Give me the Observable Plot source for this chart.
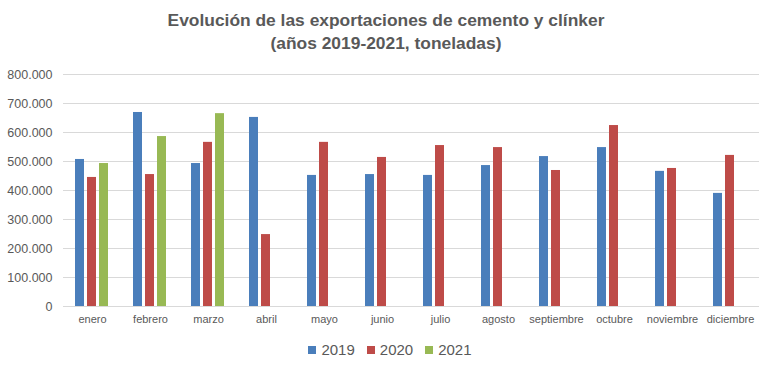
<!DOCTYPE html>
<html>
<head>
<meta charset="utf-8">
<script src="https://cdn.jsdelivr.net/npm/d3@7"></script>
<script src="https://cdn.jsdelivr.net/npm/@observablehq/plot@0.6"></script>
<style>
  body { margin: 0; background: #fff; width: 772px; height: 368px; overflow: hidden; font-family: "Liberation Sans", Arial, sans-serif; }
  #title { text-align: center; font-weight: bold; font-size: 17.4px; line-height: 23px; color: #595959; padding-top: 9px; height: 53px; }
  #chart svg { display: block; }
  #chart [aria-label^="fx-axis"] text { font-size: 11px; }
  #legend { display: flex; justify-content: center; align-items: center; gap: 12px; color: #595959; font-size: 15px; margin-top: 9px; padding-left: 8px; }
  #legend span.sw { display: inline-block; width: 8px; height: 8px; margin-right: 5px; }
  #legend div { display: flex; align-items: center; }
</style>
</head>
<body>
<div id="title">Evolución de las exportaciones de cemento y clínker<br>(años 2019-2021, toneladas)</div>
<div id="chart"></div>
<div id="legend"></div>
<script>
const months = ["enero","febrero","marzo","abril","mayo","junio","julio","agosto","septiembre","octubre","noviembre","diciembre"];
const years = ["2019","2020","2021"];
const v2019 = [507000, 669000, 493000, 652000, 452000, 455000, 452000, 486000, 517000, 548000, 466000, 390000];
const v2020 = [445000, 455000, 566000, 248000, 566000, 514000, 555000, 548000, 469000, 624000, 476000, 521000];
const v2021 = [493000, 586000, 665000];
const yTicks = [0, 100000, 200000, 300000, 400000, 500000, 600000, 700000, 800000];
const colors = ["#4a7ebb", "#be4b48", "#98b954"];

const series = [v2019, v2020, v2021];
const data = [];
months.forEach((m, i) => {
  series.forEach((s, j) => {
    if (s[i] !== undefined) data.push({month: m, year: years[j], value: s[i]});
  });
});

const locale = d3.formatLocale({decimal: ",", thousands: ".", grouping: [3], currency: ["", "€"]});
const fmt = locale.format(",");

const chart = Plot.plot({
  width: 772,
  height: 270,
  marginTop: 12,
  marginBottom: 26,
  marginLeft: 62,
  marginRight: 12,
  style: {fontFamily: "'Liberation Sans', Arial, sans-serif", fontSize: "12.5px", color: "#595959", background: "#fff"},
  facet: {data: data, x: "month"},
  fx: {domain: months, paddingInner: 0, paddingOuter: 0, label: null, axis: "bottom", tickSize: 0, tickPadding: 9},
  x: {domain: years, axis: null, paddingInner: 0.23, paddingOuter: 0.85},
  y: {domain: [0, 800000], ticks: yTicks, tickFormat: fmt, label: null, tickSize: 0, tickPadding: 11},
  color: {domain: years, range: colors},
  marks: [
    Plot.ruleY(yTicks, {stroke: "#d9d9d9", strokeWidth: 1}),
    Plot.barY(data, {x: "year", y: "value", fill: "year"})
  ]
});
document.getElementById("chart").appendChild(chart);

const legend = document.getElementById("legend");
years.forEach((y, i) => {
  const d = document.createElement("div");
  d.innerHTML = `<span class="sw" style="background:${colors[i]}"></span>${y}`;
  legend.appendChild(d);
});
</script>
</body>
</html>
